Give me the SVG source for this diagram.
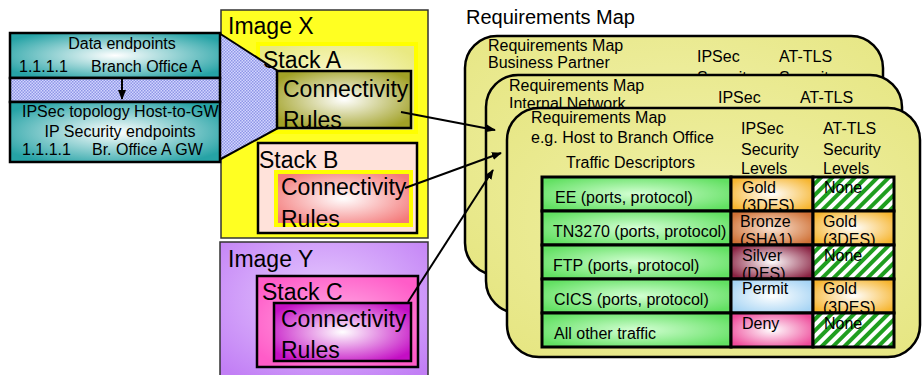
<svg xmlns="http://www.w3.org/2000/svg" width="922" height="375" viewBox="0 0 922 375">
  <style>
    text { font-family: "Liberation Sans", Arial, sans-serif; fill: #000; }
    .t16 { font-size: 16px; }
    .t20 { font-size: 20px; }
    .t23 { font-size: 23px; }
    .box { stroke: #000; stroke-width: 2.5; }
    .card { fill: url(#gCard); stroke: #000; stroke-width: 2.5; }
    .cell { stroke: #000; stroke-width: 3; }
    .wire { fill: none; stroke: #000; stroke-width: 2; }
  </style>
  <defs>
    <radialGradient id="gTeal" cx="0.5" cy="0.5" r="0.6">
      <stop offset="0" stop-color="#ffffff"/>
      <stop offset="1" stop-color="#26a3a6"/>
    </radialGradient>
    <radialGradient id="gStackA" cx="0.5" cy="0.5" r="0.6">
      <stop offset="0" stop-color="#fdfde6"/>
      <stop offset="1" stop-color="#e9e982"/>
    </radialGradient>
    <radialGradient id="gOlive" cx="0.5" cy="0.5" r="0.6">
      <stop offset="0" stop-color="#ffffff"/>
      <stop offset="1" stop-color="#a1a126"/>
    </radialGradient>
    <radialGradient id="gRed" cx="0.5" cy="0.5" r="0.6">
      <stop offset="0" stop-color="#ffffff"/>
      <stop offset="1" stop-color="#f47a7a"/>
    </radialGradient>
    <radialGradient id="gLav" cx="0.5" cy="0.4" r="0.7">
      <stop offset="0" stop-color="#e6ccff"/>
      <stop offset="1" stop-color="#c27ff5"/>
    </radialGradient>
    <radialGradient id="gPink" cx="0.5" cy="0.5" r="0.6">
      <stop offset="0" stop-color="#ffb0e6"/>
      <stop offset="1" stop-color="#ff5cc8"/>
    </radialGradient>
    <radialGradient id="gMag" cx="0.5" cy="0.5" r="0.6">
      <stop offset="0" stop-color="#ffffff"/>
      <stop offset="1" stop-color="#c40ec4"/>
    </radialGradient>
    <radialGradient id="gCard" cx="0.5" cy="0.45" r="0.7">
      <stop offset="0" stop-color="#f1f1ab"/>
      <stop offset="1" stop-color="#e6e683"/>
    </radialGradient>
    <radialGradient id="gGreen" cx="0.5" cy="0.5" r="0.6">
      <stop offset="0" stop-color="#d4ffd4"/>
      <stop offset="1" stop-color="#62e062"/>
    </radialGradient>
    <radialGradient id="gGold" cx="0.5" cy="0.5" r="0.6">
      <stop offset="0" stop-color="#ffffff"/>
      <stop offset="1" stop-color="#f6b52f"/>
    </radialGradient>
    <radialGradient id="gBronze" cx="0.5" cy="0.5" r="0.6">
      <stop offset="0" stop-color="#fbe6d6"/>
      <stop offset="1" stop-color="#cf7035"/>
    </radialGradient>
    <radialGradient id="gSilver" cx="0.5" cy="0.5" r="0.6">
      <stop offset="0" stop-color="#ffffff"/>
      <stop offset="1" stop-color="#8a2343"/>
    </radialGradient>
    <radialGradient id="gPermit" cx="0.5" cy="0.5" r="0.6">
      <stop offset="0" stop-color="#ffffff"/>
      <stop offset="1" stop-color="#a6d4f4"/>
    </radialGradient>
    <radialGradient id="gDeny" cx="0.5" cy="0.5" r="0.6">
      <stop offset="0" stop-color="#ffffff"/>
      <stop offset="1" stop-color="#ee4a9a"/>
    </radialGradient>
    <!-- diagonal green hatching for "None" cells -->
    <pattern id="pStripe" width="8" height="8" patternUnits="userSpaceOnUse" patternTransform="rotate(45)">
      <rect width="8" height="8" fill="#ffffff"/>
      <rect width="4" height="8" fill="#1f9e1f"/>
    </pattern>
    <!-- fine blue checker used for the band and the funnel -->
    <pattern id="pDots" width="3" height="3" patternUnits="userSpaceOnUse">
      <rect width="3" height="3" fill="#d2d5ff"/>
      <rect width="1.5" height="1.5" fill="#8f96e6"/>
      <rect x="1.5" y="1.5" width="1.5" height="1.5" fill="#8f96e6"/>
    </pattern>
    <!-- clip regions so overflowing cell/card text stays inside its own box -->
    <clipPath id="cCard1"><rect x="465" y="36" width="418" height="39"/></clipPath>
    <clipPath id="cCard2"><rect x="486" y="75" width="416" height="33"/></clipPath>
    <clipPath id="cR1C2"><rect x="731" y="177" width="82" height="33"/></clipPath>
    <clipPath id="cR2C2"><rect x="731" y="211" width="82" height="33"/></clipPath>
    <clipPath id="cR2C3"><rect x="813" y="211" width="81" height="33"/></clipPath>
    <clipPath id="cR3C2"><rect x="731" y="245" width="82" height="33"/></clipPath>
    <clipPath id="cR4C3"><rect x="813" y="279" width="81" height="33"/></clipPath>
    <marker id="arrow" viewBox="0 0 10 8" refX="9" refY="4" markerWidth="10" markerHeight="8" markerUnits="userSpaceOnUse" orient="auto">
      <path d="M0,0 L10,4 L0,8 Z" fill="#000"/>
    </marker>
  </defs>

  <rect width="922" height="375" fill="#ffffff"/>

  <!-- Image X -->
  <g id="image-x">
    <rect x="221" y="10" width="207" height="228" fill="#ffff22" stroke="#333" stroke-width="1.5"/>
    <text class="t23" x="228" y="34">Image X</text>
  </g>

  <!-- Stack A -->
  <g id="stack-a">
    <rect x="258" y="44" width="158" height="88" fill="url(#gStackA)" stroke="#ffff00" stroke-width="4"/>
  </g>

  <!-- funnel from the endpoint panel into the rules of Stack A -->
  <g id="endpoint-funnel">
    <polygon points="219,33 278,71 278,128 219,160" fill="url(#pDots)"/>
    <polyline points="219,33 278,71" class="wire" stroke-width="2.5"/>
    <polyline points="278,128 219,160" class="wire" stroke-width="2.5"/>
    <text class="t23" x="263" y="68">Stack A</text>
  </g>

  <!-- Connectivity Rules (Stack A) -->
  <g id="rules-a">
    <rect x="277" y="71" width="134" height="57" fill="url(#gOlive)" class="box"/>
    <text class="t23" x="283" y="97">Connectivity</text>
    <text class="t23" x="283" y="128">Rules</text>
  </g>

  <!-- Stack B -->
  <g id="stack-b">
    <rect x="258" y="143" width="159" height="90" fill="#ffe2da" class="box"/>
    <text class="t23" x="259" y="168">Stack B</text>
  </g>

  <!-- Connectivity Rules (Stack B) -->
  <g id="rules-b">
    <rect x="276" y="172" width="135" height="53" fill="url(#gRed)" stroke="#ffff00" stroke-width="4"/>
    <text class="t23" x="281" y="195">Connectivity</text>
    <text class="t23" x="281" y="227">Rules</text>
  </g>

  <!-- Image Y -->
  <g id="image-y">
    <rect x="220" y="242" width="208" height="140" fill="url(#gLav)" stroke="#333" stroke-width="1.5"/>
    <text class="t23" x="228" y="267">Image Y</text>
  </g>

  <!-- Stack C -->
  <g id="stack-c">
    <rect x="257" y="276" width="161" height="91" fill="url(#gPink)" class="box"/>
    <text class="t23" x="262" y="300">Stack C</text>
  </g>

  <!-- Connectivity Rules (Stack C) -->
  <g id="rules-c">
    <rect x="274" y="303" width="137" height="58" fill="url(#gMag)" class="box"/>
    <text class="t23" x="281" y="327">Connectivity</text>
    <text class="t23" x="281" y="358">Rules</text>
  </g>

  <!-- endpoint panel -->
  <g id="endpoints">
    <rect x="10" y="33" width="210" height="45" fill="url(#gTeal)" class="box"/>
    <rect x="10" y="78" width="210" height="24" fill="url(#pDots)" class="box"/>
    <rect x="10" y="102" width="210" height="60" fill="url(#gTeal)" class="box"/>
    <text class="t16" x="122" y="49" text-anchor="middle">Data endpoints</text>
    <text class="t16" x="19" y="72">1.1.1.1</text>
    <text class="t16" x="91" y="72">Branch Office A</text>
    <text class="t16" x="22" y="117">IPSec topology Host-to-GW</text>
    <text class="t16" x="120" y="137" text-anchor="middle">IP Security endpoints</text>
    <text class="t16" x="22" y="155">1.1.1.1</text>
    <text class="t16" x="92" y="155">Br. Office A GW</text>
  </g>

  <text class="t20" x="466" y="24">Requirements Map</text>

  <!-- Requirements map: business partner -->
  <g id="map-business-partner">
    <rect x="465" y="36" width="418" height="239" rx="32" class="card"/>
    <text class="t16" x="488" y="51">Requirements Map</text>
    <text class="t16" x="488" y="68">Business Partner</text>
    <text class="t16" x="697" y="62">IPSec</text>
    <text class="t16" x="779" y="62">AT-TLS</text>
    <g clip-path="url(#cCard1)">
      <text class="t16" x="697" y="83">Security</text>
      <text class="t16" x="779" y="83">Security</text>
    </g>
  </g>

  <!-- Requirements map: internal network -->
  <g id="map-internal-network">
    <rect x="486" y="75" width="416" height="238" rx="32" class="card"/>
    <text class="t16" x="509" y="91">Requirements Map</text>
    <text class="t16" x="718" y="103">IPSec</text>
    <text class="t16" x="800" y="103">AT-TLS</text>
    <g clip-path="url(#cCard2)">
      <text class="t16" x="509" y="109">Internal Network</text>
    </g>
  </g>

  <!-- Requirements map: host to branch office -->
  <g id="map-host-branch">
    <rect x="507" y="108" width="413" height="249" rx="32" class="card"/>
    <text class="t16" x="531" y="123">Requirements Map</text>
    <text class="t16" x="531" y="143">e.g. Host to Branch Office</text>
    <text class="t16" x="741" y="134">IPSec</text>
    <text class="t16" x="741" y="155">Security</text>
    <text class="t16" x="741" y="174">Levels</text>
    <text class="t16" x="823" y="134">AT-TLS</text>
    <text class="t16" x="823" y="155">Security</text>
    <text class="t16" x="823" y="174">Levels</text>
    <text class="t16" x="566" y="168">Traffic Descriptors</text>

    <!-- row 1 -->
    <rect x="542" y="177" width="189" height="34" fill="url(#gGreen)" class="cell"/>
    <rect x="731" y="177" width="82" height="34" fill="url(#gGold)" class="cell"/>
    <rect x="813" y="177" width="81" height="34" fill="url(#pStripe)" class="cell"/>
    <text class="t16" x="555" y="203">EE (ports, protocol)</text>
    <text class="t16" x="742" y="193">Gold</text>
    <text class="t16" x="742" y="211" clip-path="url(#cR1C2)">(3DES)</text>
    <text class="t16" x="824" y="193">None</text>

    <!-- row 2 -->
    <rect x="542" y="211" width="189" height="34" fill="url(#gGreen)" class="cell"/>
    <rect x="731" y="211" width="82" height="34" fill="url(#gBronze)" class="cell"/>
    <rect x="813" y="211" width="81" height="34" fill="url(#gGold)" class="cell"/>
    <text class="t16" x="553" y="237">TN3270 (ports, protocol)</text>
    <text class="t16" x="740" y="227">Bronze</text>
    <text class="t16" x="740" y="245" clip-path="url(#cR2C2)">(SHA1)</text>
    <text class="t16" x="823" y="227">Gold</text>
    <text class="t16" x="823" y="245" clip-path="url(#cR2C3)">(3DES)</text>

    <!-- row 3 -->
    <rect x="542" y="245" width="189" height="34" fill="url(#gGreen)" class="cell"/>
    <rect x="731" y="245" width="82" height="34" fill="url(#gSilver)" class="cell"/>
    <rect x="813" y="245" width="81" height="34" fill="url(#pStripe)" class="cell"/>
    <text class="t16" x="553" y="271">FTP (ports, protocol)</text>
    <text class="t16" x="742" y="261">Silver</text>
    <text class="t16" x="742" y="279" clip-path="url(#cR3C2)">(DES)</text>
    <text class="t16" x="824" y="261">None</text>

    <!-- row 4 -->
    <rect x="542" y="279" width="189" height="34" fill="url(#gGreen)" class="cell"/>
    <rect x="731" y="279" width="82" height="34" fill="url(#gPermit)" class="cell"/>
    <rect x="813" y="279" width="81" height="34" fill="url(#gGold)" class="cell"/>
    <text class="t16" x="554" y="305">CICS (ports, protocol)</text>
    <text class="t16" x="742" y="294">Permit</text>
    <text class="t16" x="823" y="294">Gold</text>
    <text class="t16" x="823" y="313" clip-path="url(#cR4C3)">(3DES)</text>

    <!-- row 5 -->
    <rect x="542" y="313" width="189" height="34" fill="url(#gGreen)" class="cell"/>
    <rect x="731" y="313" width="82" height="34" fill="url(#gDeny)" class="cell"/>
    <rect x="813" y="313" width="81" height="34" fill="url(#pStripe)" class="cell"/>
    <text class="t16" x="554" y="339">All other traffic</text>
    <text class="t16" x="742" y="329">Deny</text>
    <text class="t16" x="824" y="329">None</text>
  </g>

  <!-- connectors -->
  <g id="connectors">
    <line x1="122" y1="79" x2="122" y2="99" class="wire" marker-end="url(#arrow)"/>
    <line x1="401" y1="112" x2="495" y2="130" class="wire" marker-end="url(#arrow)"/>
    <line x1="405" y1="188" x2="501" y2="153" class="wire" marker-end="url(#arrow)"/>
    <line x1="408" y1="302" x2="493" y2="170" class="wire" marker-end="url(#arrow)"/>
  </g>
</svg>
